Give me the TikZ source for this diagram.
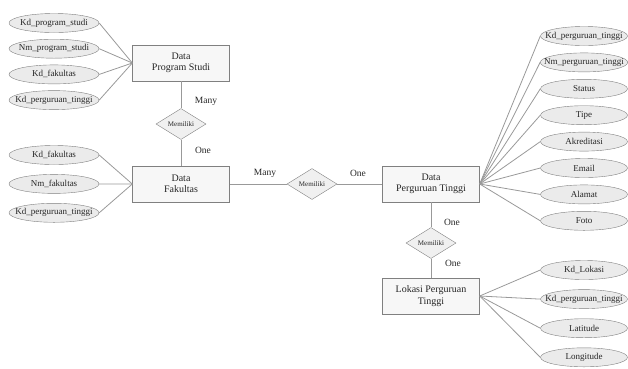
\documentclass[tikz,border=0pt]{standalone}
\usepackage{fontspec}
\setmainfont{Liberation Serif}
\usetikzlibrary{positioning, shapes.geometric}

\begin{document}
\begin{tikzpicture}[
    x=1pt, y=-1pt,
    entbox/.style={draw=black!50, fill=black!3, minimum width=97pt, minimum height=36pt, align=center, text=black!85, font=\fontsize{10}{11.5}\selectfont},
    attr/.style={ellipse, draw=black!50, fill=black!8, minimum width=87pt, minimum height=19pt, inner xsep=-9pt, inner ysep=0pt, text=black!85, font=\fontsize{9}{10}\selectfont},
    attrl/.style={attr, minimum width=90pt},
    relship/.style={diamond, draw=black!50, fill=black!6, minimum width=50pt, minimum height=23pt, inner sep=0pt, text=black!85, font=\fontsize{7}{8}\selectfont},
    card/.style={text=black!85, font=\fontsize{9.5}{11}\selectfont},
    conn/.style={draw=black!40, line width=0.8pt}
]
\useasboundingbox (0,0) rectangle (628,368);

% Entities
\node[entbox] (psbox) at (181,63) {Data\\Program Studi};
\node[entbox] (fkbox) at (181,184) {Data\\Fakultas};
\node[entbox] (ptbox) at (431,184) {Data\\Perguruan Tinggi};
\node[entbox] (lkbox) at (431,296) {Lokasi Perguruan\\Tinggi};

% Relations
\node[relship] (rel1) at (181,124) {Memiliki};
\node[relship] (rel2) at (312,184) {Memiliki};
\node[relship] (rel3) at (431,243) {Memiliki};

% Program Studi attributes
\node[attrl] (psa1) at (54,23) {Kd\_program\_studi};
\node[attrl, below=6.3pt of psa1] (psa2) {Nm\_program\_studi};
\node[attrl, below=6.3pt of psa2] (psa3) {Kd\_fakultas};
\node[attrl, below=6.3pt of psa3] (psa4) {Kd\_perguruan\_tinggi};

% Fakultas attributes
\node[attrl] (fka1) at (54,155) {Kd\_fakultas};
\node[attrl, below=9.5pt of fka1] (fka2) {Nm\_fakultas};
\node[attrl, below=9.5pt of fka2] (fka3) {Kd\_perguruan\_tinggi};

% Perguruan Tinggi attributes
\node[attr] (pta1) at (584,36) {Kd\_perguruan\_tinggi};
\node[attr, below=7pt of pta1] (pta2) {Nm\_perguruan\_tinggi};
\node[attr, below=7pt of pta2] (pta3) {Status};
\node[attr, below=7pt of pta3] (pta4) {Tipe};
\node[attr, below=7pt of pta4] (pta5) {Akreditasi};
\node[attr, below=7pt of pta5] (pta6) {Email};
\node[attr, below=7pt of pta6] (pta7) {Alamat};
\node[attr, below=7pt of pta7] (pta8) {Foto};

% Lokasi attributes
\node[attr] (lka1) at (584,270) {Kd\_Lokasi};
\node[attr, below=9.7pt of lka1] (lka2) {Kd\_perguruan\_tinggi};
\node[attr, below=9.7pt of lka2] (lka3) {Latitude};
\node[attr, below=9.7pt of lka3] (lka4) {Longitude};

% Attribute lines
\draw[conn] (psbox.west) -- (psa1.east);
\draw[conn] (psbox.west) -- (psa2.east);
\draw[conn] (psbox.west) -- (psa3.east);
\draw[conn] (psbox.west) -- (psa4.east);
\draw[conn] (fkbox.west) -- (fka1.east);
\draw[conn] (fkbox.west) -- (fka2.east);
\draw[conn] (fkbox.west) -- (fka3.east);
\draw[conn] (ptbox.east) -- (pta1.west);
\draw[conn] (ptbox.east) -- (pta2.west);
\draw[conn] (ptbox.east) -- (pta3.west);
\draw[conn] (ptbox.east) -- (pta4.west);
\draw[conn] (ptbox.east) -- (pta5.west);
\draw[conn] (ptbox.east) -- (pta6.west);
\draw[conn] (ptbox.east) -- (pta7.west);
\draw[conn] (ptbox.east) -- (pta8.west);
\draw[conn] (lkbox.east) -- (lka1.west);
\draw[conn] (lkbox.east) -- (lka2.west);
\draw[conn] (lkbox.east) -- (lka3.west);
\draw[conn] (lkbox.east) -- (lka4.west);

% Relation lines
\draw[conn] (psbox) -- (rel1) -- (fkbox);
\draw[conn] (fkbox) -- (rel2) -- (ptbox);
\draw[conn] (ptbox) -- (rel3) -- (lkbox);

% Cardinalities
\node[card] (m1) at (206,101) {Many};
\node[card] (o1) at (203,150) {One};
\node[card] (m2) at (265,173) {Many};
\node[card] (o2) at (358,173) {One};
\node[card] (o3) at (452,222) {One};
\node[card] (o4) at (453,263) {One};
\end{tikzpicture}
\end{document}
